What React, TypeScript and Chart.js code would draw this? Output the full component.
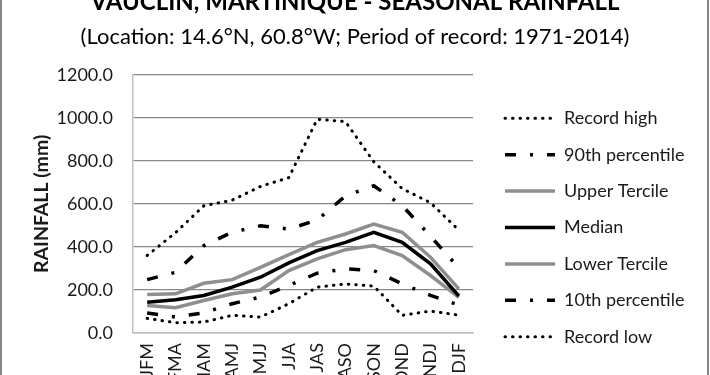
import React, { useEffect, useRef } from 'react';
import { Chart, registerables } from 'chart.js';

Chart.register(...registerables);

// ---------- data ----------
const seasons = ['JFM', 'FMA', 'MAM', 'AMJ', 'MJJ', 'JJA', 'JAS', 'ASO', 'SON', 'OND', 'NDJ', 'DJF'];
const recordHigh = [360, 466, 591, 617, 681, 722, 993, 982, 795, 671, 605, 478];
const percentile90 = [248, 282, 406, 468, 498, 483, 525, 637, 684, 592, 450, 302];
const upperTercile = [179, 182, 231, 248, 305, 364, 421, 460, 506, 468, 352, 205];
const medianRain = [143, 154, 174, 213, 259, 326, 383, 421, 468, 421, 321, 172];
const lowerTercile = [128, 117, 151, 182, 200, 290, 344, 387, 406, 360, 267, 165];
const percentile10 = [93, 74, 94, 136, 167, 221, 278, 298, 290, 228, 175, 130];
const recordLow = [68, 48, 51, 82, 74, 136, 213, 228, 218, 82, 102, 83];
const yTickValues = [0, 200, 400, 600, 800, 1000, 1200];

const TITLE = 'VAUCLIN, MARTINIQUE - SEASONAL RAINFALL';
const SUBTITLE = '(Location: 14.6°N, 60.8°W; Period of record: 1971-2014)';
const Y_TITLE = 'RAINFALL (mm)';

// ---------- style ----------
const FONT = 'Lato, "Open Sans", sans-serif';
const TEXT = '#1a1a1a';
const GRAY = '#8f8f8f';
const DOT = [0.5, 7];
const DASH_DOT = [11, 14, 3, 14];

const CANVAS_W = 710;
const CANVAS_H = 495;
const CANVAS_SHIFT = 20;
const AREA_RIGHT = 473;
const GAP_RIGHT = 13.6;

const framePlugin = {
  id: 'frame',
  beforeDraw(chart: any) {
    const { ctx, width, height } = chart;
    ctx.save();
    ctx.fillStyle = '#ffffff';
    ctx.fillRect(0, 0, width, height);
    ctx.strokeStyle = '#878787';
    ctx.lineWidth = 2;
    ctx.strokeRect(1, 1, width - 3, height - 2);
    ctx.restore();
  },
};

export default function App() {
  const ref = useRef<HTMLCanvasElement | null>(null);

  useEffect(() => {
    const canvas = ref.current;
    if (!canvas) return;

    const mk = (label: string, data: number[], color: string, width: number, dash: number[], cap: string) => ({
      label,
      data,
      borderColor: color,
      backgroundColor: color,
      borderWidth: width,
      borderDash: dash,
      borderCapStyle: cap,
      pointRadius: 0,
      pointHoverRadius: 0,
      tension: 0,
      fill: false,
    });

    const chart = new Chart(canvas, {
      type: 'line',
      data: {
        labels: seasons,
        datasets: [
          mk('Record high', recordHigh, '#000000', 3, DOT, 'round'),
          mk('90th percentile', percentile90, '#000000', 3.5, DASH_DOT, 'butt'),
          mk('Upper Tercile', upperTercile, GRAY, 3.5, [], 'butt'),
          mk('Median', medianRain, '#000000', 3.5, [], 'butt'),
          mk('Lower Tercile', lowerTercile, GRAY, 3.5, [], 'butt'),
          mk('10th percentile', percentile10, '#000000', 3.5, DASH_DOT, 'butt'),
          mk('Record low', recordLow, '#000000', 3, DOT, 'round'),
        ] as any,
      },
      options: {
        responsive: false,
        devicePixelRatio: 1,
        animation: false,
        events: [],
        layout: { padding: 0 },
        scales: {
          x: {
            type: 'category',
            offset: true,
            grid: { display: false, drawTicks: false },
            border: { display: true, color: '#bfbfbf', width: 1.5 },
            ticks: {
              minRotation: 90,
              maxRotation: 90,
              autoSkip: false,
              padding: 10,
              color: TEXT,
              font: { family: FONT, size: 18 },
            },
            afterFit: (s: any) => {
              s.height = 142;
            },
          },
          y: {
            type: 'linear',
            position: 'left',
            min: 0,
            max: 1200,
            afterBuildTicks: (s: any) => {
              s.ticks = yTickValues.map((v) => ({ value: v }));
            },
            ticks: {
              padding: 20,
              color: TEXT,
              font: { family: FONT, size: 18 },
              callback: (v: any) => Number(v).toFixed(1),
            },
            grid: { color: '#888888', lineWidth: 1.2, drawTicks: false },
            border: { display: true, color: '#bfbfbf', width: 1.5 },
            title: {
              display: true,
              text: Y_TITLE,
              color: TEXT,
              font: { family: FONT, size: 19.5, weight: 'bold' },
              padding: { top: 30, bottom: 0 },
            },
            afterFit: (s: any) => {
              s.width = 133;
            },
          },
          gapRight: {
            type: 'linear',
            position: 'right',
            weight: 0,
            display: true,
            grid: { display: false, drawTicks: false },
            border: { display: false },
            ticks: { display: false },
            afterFit: (s: any) => {
              s.width = GAP_RIGHT;
            },
          },
          outerRight: {
            type: 'linear',
            position: 'right',
            weight: 2000,
            display: true,
            grid: { display: false, drawTicks: false },
            border: { display: false },
            ticks: { display: false },
            afterFit: (s: any) => {
              const lw = s.chart.legend ? s.chart.legend.width : 200;
              s.width = Math.max(0, CANVAS_W - AREA_RIGHT - GAP_RIGHT - lw);
            },
          },
        } as any,
        plugins: {
          tooltip: { enabled: false },
          title: {
            display: true,
            text: TITLE,
            color: '#000000',
            font: { family: FONT, size: 24, weight: 'bold', lineHeight: 1.2 },
            padding: { top: 7.6, bottom: 3.4 },
          },
          subtitle: {
            display: true,
            text: SUBTITLE,
            color: '#000000',
            font: { family: FONT, size: 22, lineHeight: 1.2 },
            padding: { top: 3.5, bottom: 25 },
          },
          legend: {
            display: true,
            position: 'right',
            align: 'center',
            maxWidth: 236,
            labels: {
              usePointStyle: true,
              pointStyle: 'line',
              pointStyleWidth: 50,
              padding: 18.4,
              color: TEXT,
              font: { family: FONT, size: 18 },
              generateLabels: (c: any) =>
                c.data.datasets.map((ds: any, i: number) => ({
                  text: ds.label,
                  strokeStyle: ds.borderColor,
                  fillStyle: ds.borderColor,
                  fontColor: TEXT,
                  lineWidth: ds.borderWidth,
                  lineDash: ds.borderDash,
                  lineCap: ds.borderCapStyle,
                  pointStyle: 'line',
                  hidden: false,
                  datasetIndex: i,
                })),
            },
          },
        } as any,
      },
      plugins: [framePlugin],
    } as any);

    return () => chart.destroy();
  }, []);

  return (
    <div
      style={{
        position: 'fixed',
        left: 0,
        top: 0,
        width: CANVAS_W,
        height: 375,
        overflow: 'hidden',
        background: '#ffffff',
      }}
    >
      <canvas
        ref={ref}
        width={CANVAS_W}
        height={CANVAS_H}
        style={{ position: 'absolute', left: 0, top: -CANVAS_SHIFT, width: CANVAS_W, height: CANVAS_H }}
      />
    </div>
  );
}
